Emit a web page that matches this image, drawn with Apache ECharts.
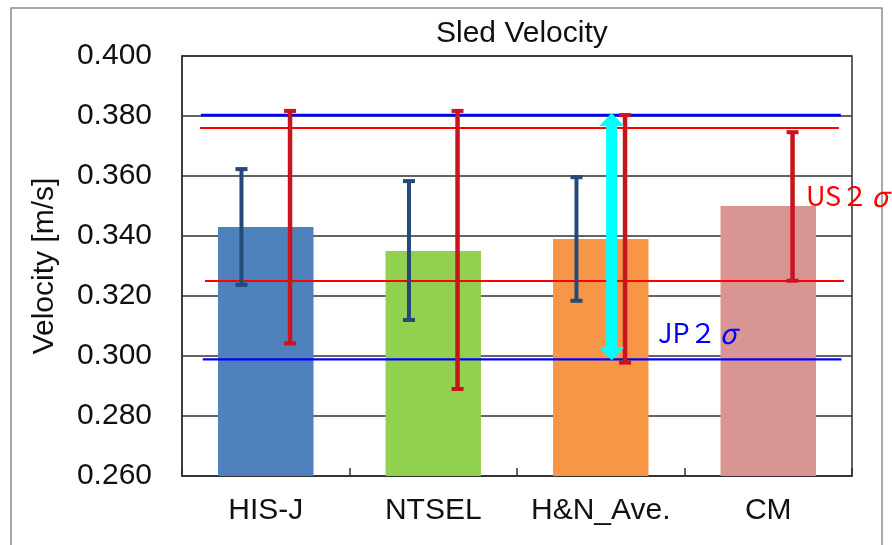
<!DOCTYPE html>
<html>
<head>
<meta charset="utf-8">
<script src="https://cdn.jsdelivr.net/npm/echarts@6/dist/echarts.min.js"></script>
<style>
  html, body { margin: 0; padding: 0; background: #ffffff; }
  #chart { width: 892px; height: 545px; }
</style>
</head>
<body>
<div id="chart"></div>
<script>
// Sled velocity by data source, with JP and US scatter (2σ) bands
const categories = ['HIS-J', 'NTSEL', 'H&N_Ave.', 'CM'];
const meanVelocity = [0.343, 0.335, 0.339, 0.350];
const jpLow = [0.3237, 0.3120, 0.3184, null];
const jpHigh = [0.3623, 0.3583, 0.3596, null];
const usLow = [0.3042, 0.2890, 0.2978, 0.3251];
const usHigh = [0.3817, 0.3817, 0.3803, 0.3746];
const jpBand = [0.2989, 0.3803];
const usBand = [0.3250, 0.3760];
const yTickLabels = ['0.260', '0.280', '0.300', '0.320', '0.340', '0.360', '0.380', '0.400'];

const barColors = ['#4f81bd', '#92d050', '#f79646', '#d99594'];
const FONT = 'Liberation Sans, Arial, sans-serif';
const JP_FONT = '"Noto Sans CJK JP", sans-serif';

// horizontal offsets of the two error bars inside a category slot (category units)
const JP_OFFSET = -0.145;
const US_OFFSET = 0.145;
const ARROW_X = 2.565;

const chart = echarts.init(document.getElementById('chart'));

function errorBarData(lows, highs, offset) {
  const out = [];
  lows.forEach((lo, i) => {
    if (lo != null && highs[i] != null) out.push([i + 0.5 + offset, lo, highs[i]]);
  });
  return out;
}

function errorBarRenderer(color, width) {
  return function (params, api) {
    const x = api.value(0);
    const lo = api.coord([x, api.value(1)]);
    const hi = api.coord([x, api.value(2)]);
    const half = 6;
    const style = { stroke: color, lineWidth: width };
    return {
      type: 'group',
      children: [
        { type: 'line', shape: { x1: hi[0], y1: hi[1], x2: lo[0], y2: lo[1] }, style },
        { type: 'line', shape: { x1: hi[0] - half, y1: hi[1], x2: hi[0] + half, y2: hi[1] }, style: { stroke: color, lineWidth: 4 } },
        { type: 'line', shape: { x1: lo[0] - half, y1: lo[1], x2: lo[0] + half, y2: lo[1] }, style: { stroke: color, lineWidth: 4 } }
      ]
    };
  };
}

function bandLine(value, x0, x1, color, width) {
  return {
    type: 'line',
    xAxisIndex: 1,
    data: [[x0, value], [x1, value]],
    symbol: 'none',
    silent: true,
    z: 4,
    lineStyle: { color: color, width: width }
  };
}

const option = {
  animation: false,
  backgroundColor: '#ffffff',
  graphic: [
    {
      type: 'rect',
      z: -10,
      shape: { x: 11, y: 8, width: 871, height: 600 },
      style: { fill: 'none', stroke: '#8c8c8c', lineWidth: 1.5 }
    }
  ],
  title: {
    text: 'Sled Velocity',
    left: 431,
    top: 14,
    textStyle: { fontFamily: FONT, fontSize: 30, fontWeight: 'normal', color: '#111' }
  },
  grid: { left: 182, right: 40, top: 56, bottom: 69, show: true, borderColor: '#303030', borderWidth: 1.5 },
  xAxis: [
    {
      type: 'category',
      data: categories,
      axisLine: { lineStyle: { color: '#303030', width: 1.5 } },
      axisTick: { show: true, inside: true, interval: 0, length: 8, lineStyle: { color: '#303030', width: 1.5 } },
      axisLabel: { fontFamily: FONT, fontSize: 30, color: '#111', margin: 20, interval: 0 }
    },
    { type: 'value', min: 0, max: 4, show: false }
  ],
  yAxis: {
    type: 'value',
    min: 0.26,
    max: 0.40,
    interval: 0.02,
    name: 'Velocity [m/s]',
    nameLocation: 'middle',
    nameRotate: 90,
    nameGap: 122,
    nameTextStyle: { fontFamily: FONT, fontSize: 30, color: '#111' },
    axisLine: { show: true, lineStyle: { color: '#303030', width: 1.5 } },
    axisTick: { show: false },
    axisLabel: {
      fontFamily: FONT, fontSize: 30, color: '#111', margin: 30,
      formatter: function (v) {
        const idx = Math.round((v - 0.26) / 0.02);
        return yTickLabels[idx] !== undefined ? yTickLabels[idx] : v.toFixed(3);
      }
    },
    splitLine: { show: true, lineStyle: { color: '#303030', width: 1.5 } }
  },
  series: [
    {
      type: 'bar',
      data: meanVelocity.map((v, i) => ({ value: v, itemStyle: { color: barColors[i] } })),
      barWidth: '57%',
      z: 2
    },
    bandLine(usBand[1], 0.107, 3.922, '#ff0000', 2),
    bandLine(usBand[0], 0.137, 3.952, '#ff0000', 2),
    bandLine(jpBand[1], 0.113, 3.933, '#0000ff', 2.6),
    bandLine(jpBand[0], 0.124, 3.937, '#0000ff', 2.2),
    {
      type: 'custom',
      xAxisIndex: 1,
      z: 5,
      data: errorBarData(jpLow, jpHigh, JP_OFFSET),
      renderItem: errorBarRenderer('#234a78', 4)
    },
    {
      type: 'custom',
      xAxisIndex: 1,
      z: 5,
      data: errorBarData(usLow, usHigh, US_OFFSET),
      renderItem: errorBarRenderer('#c8141e', 4.5)
    },
    {
      // double-headed arrow spanning the JP 2σ band
      type: 'custom',
      xAxisIndex: 1,
      z: 6,
      data: [[ARROW_X, jpBand[0], jpBand[1]]],
      renderItem: function (params, api) {
        const x = api.value(0);
        const bot = api.coord([x, api.value(1)]);
        const top = api.coord([x, api.value(2)]);
        const cx = top[0];
        const sh = 5.5, hh = 12.5, hl = 13;
        const t = top[1] - 2, b = bot[1] + 1;
        return {
          type: 'polygon',
          shape: {
            points: [
              [cx, t], [cx + hh, t + hl], [cx + sh, t + hl],
              [cx + sh, b - hl], [cx + hh, b - hl], [cx, b],
              [cx - hh, b - hl], [cx - sh, b - hl], [cx - sh, t + hl],
              [cx - hh, t + hl]
            ]
          },
          style: { fill: '#00ffff' }
        };
      }
    },
    {
      // band captions
      type: 'custom',
      xAxisIndex: 1,
      z: 7,
      data: [[2.842, 0.3077, 0], [3.725, 0.3533, 1]],
      renderItem: function (params, api) {
        const p = api.coord([api.value(0), api.value(1)]);
        const isUS = api.value(2) === 1;
        const color = isUS ? '#ff0000' : '#0000ff';
        return {
          type: 'text',
          x: p[0],
          y: p[1],
          style: {
            text: (isUS ? '{a|US２}' : '{a|JP２}') + '{s|σ}',
            textAlign: 'left',
            textVerticalAlign: 'middle',
            rich: {
              a: { fill: color, font: '27px ' + JP_FONT },
              s: { fill: color, font: 'italic 28px ' + JP_FONT, padding: [0, 0, 0, 3] }
            }
          }
        };
      }
    }
  ]
};

chart.setOption(option);
</script>
</body>
</html>
